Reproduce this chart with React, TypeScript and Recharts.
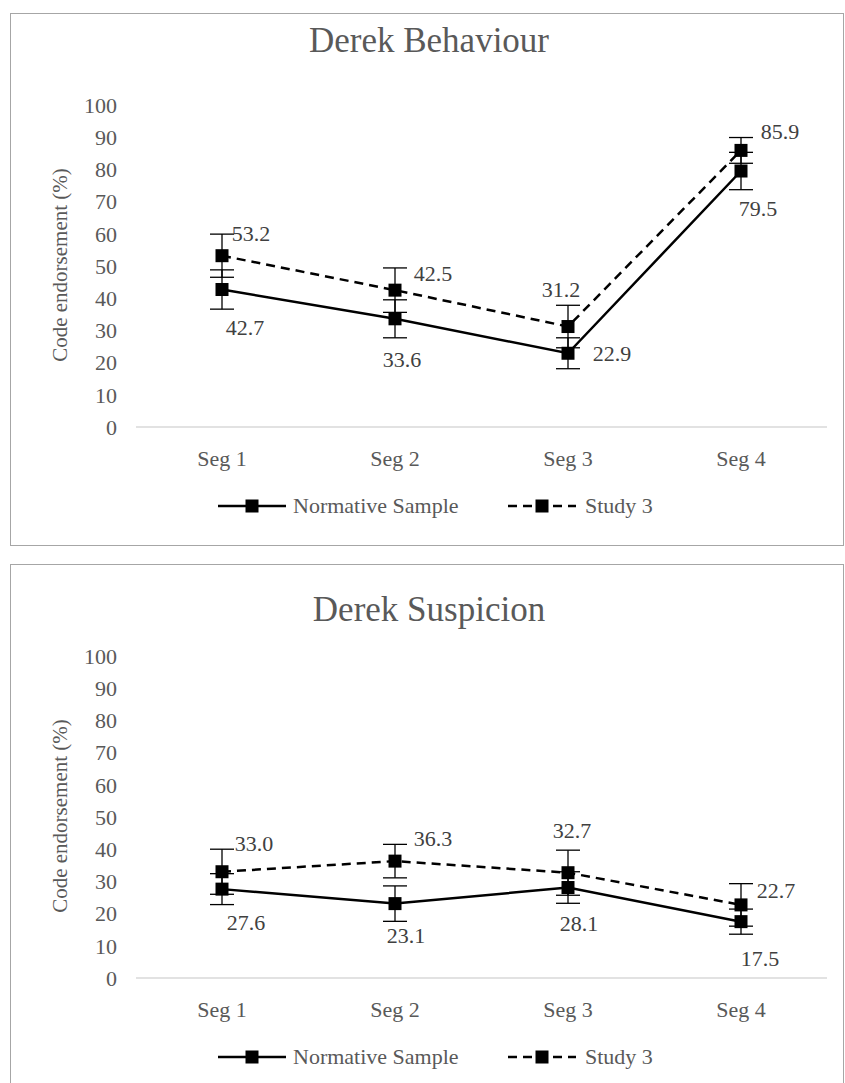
import { LineChart, Line, XAxis, YAxis, ErrorBar } from "recharts";

const SEGMENTS = ["Seg 1", "Seg 2", "Seg 3", "Seg 4"];
const Y_TICKS = [0, 10, 20, 30, 40, 50, 60, 70, 80, 90, 100];

// Derek Behaviour
const BEHAVIOUR_NORMATIVE = [42.7, 33.6, 22.9, 79.5];
const BEHAVIOUR_NORMATIVE_ERR = [6.1, 5.9, 4.8, 5.8];
const BEHAVIOUR_STUDY3 = [53.2, 42.5, 31.2, 85.9];
const BEHAVIOUR_STUDY3_ERR = [6.7, 6.9, 6.6, 4.0];

// Derek Suspicion
const SUSPICION_NORMATIVE = [27.6, 23.1, 28.1, 17.5];
const SUSPICION_NORMATIVE_ERR = [4.8, 5.5, 4.9, 3.9];
const SUSPICION_STUDY3 = [33.0, 36.3, 32.7, 22.7];
const SUSPICION_STUDY3_ERR = [7.0, 5.2, 7.0, 6.6];

// where each value label sits relative to its marker (dx, dy)
const BEHAVIOUR_NORM_LABEL_POS = [[23, 38], [7, 41], [44, 0], [17, 37]];
const BEHAVIOUR_STUDY_LABEL_POS = [[29, -22], [38, -17], [-7, -37], [39, -19]];
const SUSPICION_NORM_LABEL_POS = [[24, 33], [11, 32], [11, 36], [19, 37]];
const SUSPICION_STUDY_LABEL_POS = [[32, -28], [38, -23], [4, -42], [35, -14]];

const FONT = "Liberation Serif";
const GREY = "#595959";

const BOX_W = 834;
const BOX_H = 533;
const PLOT_TOP = 92;
const PLOT_BOTTOM = 414;

const squareDot = (p: any) => (
  <rect key={`dot-${p.index}`} x={p.cx - 6.5} y={p.cy - 6.5} width={13} height={13} fill="#000" />
);

const valueLabel = (pos: number[][]) => (p: any) => {
  const [dx, dy] = pos[p.index] || [0, 0];
  return (
    <text
      key={`lbl-${p.index}`}
      x={p.x + dx}
      y={p.y + dy}
      textAnchor="middle"
      dominantBaseline="central"
      fontFamily={FONT}
      fontSize={22}
      fill="#404040"
    >
      {Number(p.value).toFixed(1)}
    </text>
  );
};

function LegendKey({ dashed }: { dashed?: boolean }) {
  return (
    <svg width={68} height={16} style={{ display: "block" }}>
      <line x1={0} y1={8} x2={68} y2={8} stroke="#000" strokeWidth={2.5} strokeDasharray={dashed ? "9 6" : undefined} />
      <rect x={27.5} y={1.5} width={13} height={13} fill="#000" />
    </svg>
  );
}

interface PanelProps {
  top: number;
  titleY: number;
  title: string;
  normative: number[];
  normativeErr: number[];
  study: number[];
  studyErr: number[];
  normPos: number[][];
  studyPos: number[][];
}

function Panel({ top, titleY, title, normative, normativeErr, study, studyErr, normPos, studyPos }: PanelProps) {
  const data = SEGMENTS.map((seg, i) => ({
    seg,
    norm: normative[i],
    normErr: normativeErr[i],
    study: study[i],
    studyErr: studyErr[i],
  }));

  const tickStyle = { fontSize: 22, fill: GREY, fontFamily: FONT };
  const legendTop = top + PLOT_BOTTOM + 79 - 16;

  return (
    <>
      <div
        style={{
          position: "absolute", left: 10, top, width: BOX_W, height: BOX_H,
          border: "1px solid #a6a6a6", boxSizing: "border-box", background: "#fff",
        }}
      />
      <div
        style={{
          position: "absolute", left: 12, top: top + titleY - 20, width: BOX_W, height: 40, textAlign: "center",
          fontFamily: FONT, fontSize: 35, color: GREY, lineHeight: "40px",
        }}
      >
        {title}
      </div>
      <div style={{ position: "absolute", left: 60, top: top + 252, width: 0, height: 0 }}>
        <div
          style={{
            position: "absolute", left: 0, top: 0, transform: "translate(-50%, -50%) rotate(-90deg)",
            whiteSpace: "nowrap", fontFamily: FONT, fontSize: 21, color: GREY,
          }}
        >
          Code endorsement (%)
        </div>
      </div>
      <div style={{ position: "absolute", left: 10, top }}>
        <LineChart
          width={BOX_W}
          height={BOX_H}
          data={data}
          margin={{ top: PLOT_TOP, right: 17, left: 0, bottom: 0 }}
        >
          <XAxis
            dataKey="seg"
            height={BOX_H - PLOT_BOTTOM}
            padding={{ left: 86, right: 86 }}
            axisLine={{ stroke: "#d9d9d9", strokeWidth: 1.5 }}
            tickLine={false}
            tickSize={0}
            tickMargin={23}
            tick={tickStyle}
          />
          <YAxis
            width={126}
            domain={[0, 100]}
            ticks={Y_TICKS}
            interval={0}
            axisLine={false}
            tickLine={false}
            tickSize={0}
            tickMargin={19}
            tick={tickStyle}
          />
          <Line
            dataKey="norm"
            stroke="#000"
            strokeWidth={2.5}
            dot={squareDot}
            activeDot={false}
            label={valueLabel(normPos)}
            isAnimationActive={false}
          >
            <ErrorBar dataKey="normErr" direction="y" width={12} stroke="#000" strokeWidth={1.3} />
          </Line>
          <Line
            dataKey="study"
            stroke="#000"
            strokeWidth={2.5}
            strokeDasharray="9 6"
            dot={squareDot}
            activeDot={false}
            label={valueLabel(studyPos)}
            isAnimationActive={false}
          >
            <ErrorBar dataKey="studyErr" direction="y" width={12} stroke="#000" strokeWidth={1.3} />
          </Line>
        </LineChart>
      </div>
      <div
        style={{
          position: "absolute", left: 218, top: legendTop, height: 32,
          display: "flex", alignItems: "center", gap: 7,
          fontFamily: FONT, fontSize: 22, color: GREY,
        }}
      >
        <LegendKey />
        <span>Normative Sample</span>
      </div>
      <div
        style={{
          position: "absolute", left: 508, top: legendTop, height: 32,
          display: "flex", alignItems: "center", gap: 9,
          fontFamily: FONT, fontSize: 22, color: GREY,
        }}
      >
        <LegendKey dashed />
        <span>Study 3</span>
      </div>
    </>
  );
}

export default function App() {
  return (
    <div style={{ position: "absolute", left: 0, top: 0, width: 845, height: 1083, background: "#fff", overflow: "hidden" }}>
      <Panel
        top={13}
        titleY={28}
        title="Derek Behaviour"
        normative={BEHAVIOUR_NORMATIVE}
        normativeErr={BEHAVIOUR_NORMATIVE_ERR}
        study={BEHAVIOUR_STUDY3}
        studyErr={BEHAVIOUR_STUDY3_ERR}
        normPos={BEHAVIOUR_NORM_LABEL_POS}
        studyPos={BEHAVIOUR_STUDY_LABEL_POS}
      />
      <Panel
        top={564}
        titleY={46}
        title="Derek Suspicion"
        normative={SUSPICION_NORMATIVE}
        normativeErr={SUSPICION_NORMATIVE_ERR}
        study={SUSPICION_STUDY3}
        studyErr={SUSPICION_STUDY3_ERR}
        normPos={SUSPICION_NORM_LABEL_POS}
        studyPos={SUSPICION_STUDY_LABEL_POS}
      />
    </div>
  );
}
